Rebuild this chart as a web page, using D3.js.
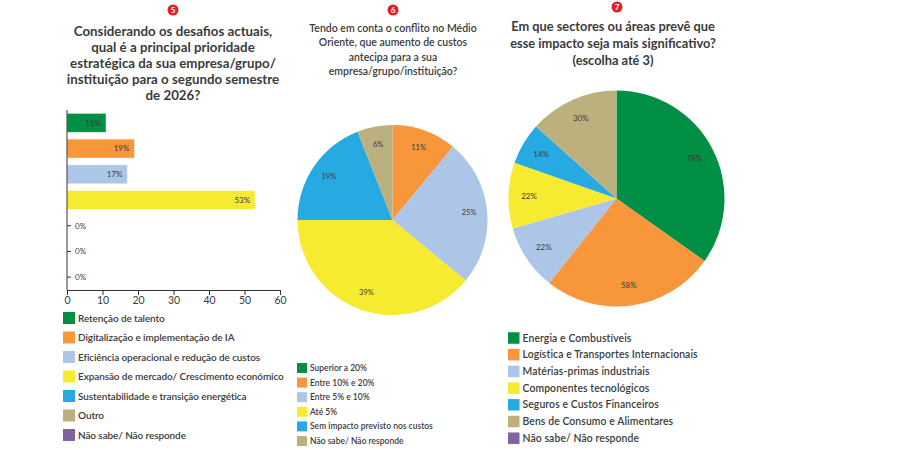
<!DOCTYPE html>
<html><head><meta charset="utf-8">
<script src="https://cdn.jsdelivr.net/npm/d3@7"></script>
<style>
html,body{margin:0;padding:0;background:#fff;}
svg{display:block;font-family:Lato,"Noto Sans",sans-serif;}
</style></head>
<body>
<svg id="c" width="900" height="450"></svg>
<script>
// ---- data ----
const colors = ["#008f45","#f7963a","#adc6e8","#f6eb30","#27aae1","#bdb07f","#8064a2"];

const barTitle = ["Considerando os desafios actuais,","qual é a principal prioridade","estratégica da sua empresa/grupo/","instituição para o segundo semestre","de 2026?"];
const barCategories = ["Retenção de talento","Digitalização e implementação de IA","Eficiência operacional e redução de custos","Expansão de mercado/ Crescimento económico","Sustentabilidade e transição energética","Outro","Não sabe/ Não responde"];
const barValues = [11,19,17,53,0,0,0];
const barTicks = [0,10,20,30,40,50,60];

const pie2Title = ["Tendo em conta o conflito no Médio","Oriente, que aumento de custos","antecipa para a sua","empresa/grupo/instituição?"];
const pie2Categories = ["Superior a 20%","Entre 10% e 20%","Entre 5% e 10%","Até 5%","Sem impacto previsto nos custos","Não sabe/ Não responde"];
const pie2Values = [0,11,25,39,19,6];

const pie3Title = ["Em que sectores ou áreas prevê que","esse impacto seja mais significativo?","(escolha até 3)"];
const pie3Categories = ["Energia e Combustíveis","Logística e Transportes Internacionais","Matérias-primas industriais","Componentes tecnológicos","Seguros e Custos Financeiros","Bens de Consumo e Alimentares","Não sabe/ Não responde"];
const pie3Values = [78,58,22,22,14,30,0];

const textCol = "#3b3b3b";
const svg = d3.select("#c");

function badge(x,y,n){
  svg.append("circle").attr("cx",x).attr("cy",y).attr("r",5.5).attr("fill","#e21f26");
  svg.append("text").attr("x",x).attr("y",y).attr("dy","0.36em").attr("text-anchor","middle")
    .attr("font-size",8).attr("font-weight","bold").attr("fill","#fff").text(n);
}
function title(lines,cx,y0,step,size,weight){
  svg.append("g").selectAll("text").data(lines).join("text")
    .attr("x",cx).attr("y",(d,i)=>y0+i*step).attr("dy","0.35em")
    .attr("text-anchor","middle").attr("font-size",size).attr("font-weight",weight)
    .attr("fill",textCol).text(d=>d);
}
function legend(cats,x,y0,step,sq,size,ls){
  const g = svg.append("g");
  const r = g.selectAll("g").data(cats).join("g")
    .attr("transform",(d,i)=>`translate(${x},${y0+i*step})`);
  r.append("rect").attr("x",0).attr("y",-sq/2).attr("width",sq).attr("height",sq)
    .attr("fill",(d,i)=>colors[i]);
  r.append("text").attr("x",sq+3).attr("y",0).attr("dy","0.35em")
    .attr("font-size",size).attr("font-weight",600).attr("letter-spacing",ls||0)
    .attr("fill",textCol).text(d=>d);
}

// ---- chart 1: bars ----
badge(173,10,"5");
title(barTitle,173,31,16.2,13.3,"bold");

const x = d3.scaleLinear().domain([0,60]).range([67,280]);
const y = d3.scaleBand().domain(barCategories).range([110,290]).paddingInner(0.26).paddingOuter(0.13);

const bg = svg.append("g");
bg.selectAll("line.ct").data(barCategories).join("line")
  .attr("x1",x(0)).attr("x2",x(0)+4)
  .attr("y1",d=>y(d)+y.bandwidth()/2).attr("y2",d=>y(d)+y.bandwidth()/2)
  .attr("stroke","#333").attr("stroke-width",1);
bg.selectAll("rect").data(barValues).join("rect")
  .attr("x",x(0)).attr("y",(d,i)=>y(barCategories[i]))
  .attr("width",d=>x(d)-x(0)).attr("height",y.bandwidth())
  .attr("fill",(d,i)=>colors[i]).attr("stroke","#fff").attr("stroke-opacity",0.5).attr("stroke-width",1);
bg.selectAll("text.v").data(barValues).join("text")
  .attr("x",d=>d>0?x(d)-5:x(0)+8)
  .attr("y",(d,i)=>y(barCategories[i])+y.bandwidth()/2).attr("dy","0.35em")
  .attr("text-anchor",d=>d>0?"end":"start")
  .attr("font-size",8).attr("fill",textCol).text(d=>d+"%");

const xAxis = svg.append("g").attr("transform","translate(0,290)")
  .call(d3.axisBottom(x).tickValues(barTicks).tickSize(5).tickSizeOuter(0));
xAxis.select(".domain").attr("stroke","#333");
xAxis.selectAll(".tick line").attr("stroke","#333");
xAxis.selectAll(".tick text").attr("font-size",10.5).attr("fill",textCol).attr("font-family","Lato,sans-serif").attr("dy","0.6em");
svg.append("line").attr("x1",x(0)).attr("x2",x(0)).attr("y1",110).attr("y2",290).attr("stroke","#333");

legend(barCategories,63,318,19.5,12,10,-0.1);

// ---- chart 2: pie ----
badge(393,10,"6");
title(pie2Title,393,28,14.6,10.5,600);

const pie = d3.pie().sort(null).value(d=>d);
const R2 = 95;
const g2 = svg.append("g").attr("transform","translate(392.5,220)");
const arc2 = d3.arc().innerRadius(0).outerRadius(R2);
const lab2 = d3.arc().innerRadius(R2*0.81).outerRadius(R2*0.81);
const a2 = pie(pie2Values);
g2.selectAll("path").data(a2).join("path").attr("d",arc2).attr("fill",(d,i)=>colors[i]);
g2.selectAll("text").data(a2.filter(d=>d.value>0)).join("text")
  .attr("transform",d=>`translate(${lab2.centroid(d)})`).attr("dy","0.35em")
  .attr("text-anchor","middle").attr("font-size",7.5).attr("fill",textCol).text(d=>d.value+"%");

legend(pie2Categories,297,368,14.6,10,8.5);

// ---- chart 3: pie ----
badge(617,7,"7");
title(pie3Title,613,27,16.8,12.8,"bold");

const R3 = 108;
const g3 = svg.append("g").attr("transform","translate(616.5,198.5)");
const arc3 = d3.arc().innerRadius(0).outerRadius(R3);
const lab3 = d3.arc().innerRadius(R3*0.81).outerRadius(R3*0.81);
const a3 = pie(pie3Values);
g3.selectAll("path").data(a3).join("path").attr("d",arc3).attr("fill",(d,i)=>colors[i]);
g3.selectAll("text").data(a3.filter(d=>d.value>0)).join("text")
  .attr("transform",d=>`translate(${lab3.centroid(d)})`).attr("dy","0.35em")
  .attr("text-anchor","middle").attr("font-size",8).attr("fill",textCol).text(d=>d.value+"%");

legend(pie3Categories,508,338,16.7,11.5,10.4,0.1);
</script>
</body></html>
